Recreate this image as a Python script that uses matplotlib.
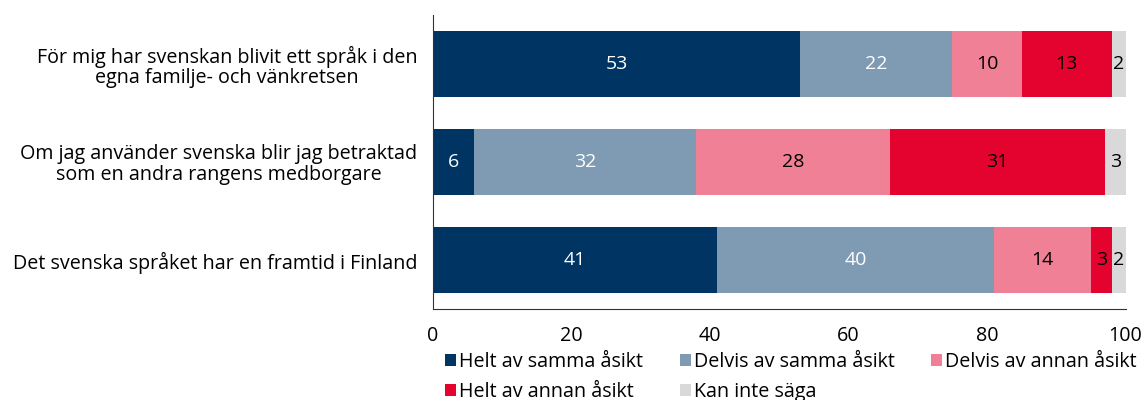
import matplotlib.pyplot as plt
import numpy as np

plt.rcParams['font.family'] = ['Open Sans', 'DejaVu Sans']

categories = ['För mig har svenskan blivit ett språk i den\negna familje- och vänkretsen',
              'Om jag använder svenska blir jag betraktad\nsom en andra rangens medborgare',
              'Det svenska språket har en framtid i Finland']
series = ['Helt av samma åsikt', 'Delvis av samma åsikt', 'Delvis av annan åsikt',
          'Helt av annan åsikt', 'Kan inte säga']
helt_samma = [53, 6, 41]
delvis_samma = [22, 32, 40]
delvis_annan = [10, 28, 14]
helt_annan = [13, 31, 3]
kan_inte = [2, 3, 2]
colors = ['#003462', '#7f9ab3', '#f08096', '#e4032e', '#d9d9d9']
text_colors = ['white', 'white', 'black', 'black', 'black']

values = np.array([helt_samma, delvis_samma, delvis_annan, helt_annan, kan_inte])

fig = plt.figure(figsize=(11.45, 4), dpi=100)
ax = fig.add_axes([0.378, 0.2275, 0.605, 0.735])

y = np.arange(len(categories))
left = np.zeros(len(categories))
handles = []
for i, name in enumerate(series):
    bars = ax.barh(y, values[i], left=left, height=0.67, color=colors[i], label=name)
    handles.append(bars)
    for j, v in enumerate(values[i]):
        ax.text(left[j] + v / 2, y[j], str(v), ha='center', va='center',
                color=text_colors[i], fontsize=14)
    left += values[i]

ax.set_xlim(0, 100)
ax.set_ylim(2.5, -0.5)
ax.set_yticks(y)
ax.set_yticklabels(categories, fontsize=14.2, ha='right', multialignment='center',
                   linespacing=1.05)
ax.tick_params(axis='y', length=0, pad=11)
ax.tick_params(axis='x', length=0, labelsize=14.2, pad=12)
ax.set_xticks([0, 20, 40, 60, 80, 100])
for s in ['top', 'right']:
    ax.spines[s].set_visible(False)
ax.spines['left'].set_color('#333333')
ax.spines['bottom'].set_color('#333333')

order = [0, 3, 1, 4, 2]
ax.legend([handles[k] for k in order], [series[k] for k in order],
          loc='upper left', bbox_to_anchor=(0.389, 0.12), bbox_transform=fig.transFigure,
          ncol=3, frameon=False, fontsize=14.2, handlelength=0.55, handleheight=0.55,
          handletextpad=0.15, columnspacing=1.85, labelspacing=0.5, borderaxespad=0,
          borderpad=0)

plt.savefig('out.png', dpi=100)
